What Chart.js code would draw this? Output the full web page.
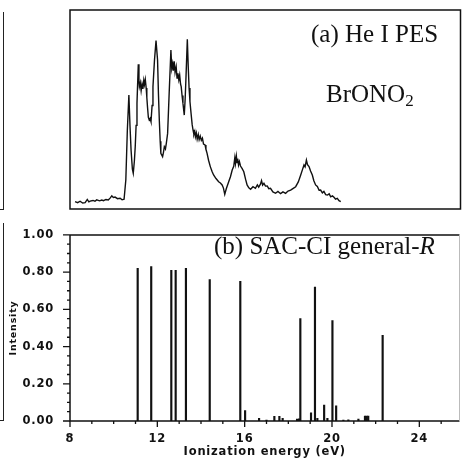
<!DOCTYPE html>
<html>
<head>
<meta charset="utf-8">
<script src="https://cdn.jsdelivr.net/npm/chart.js@4.4.1/dist/chart.umd.min.js"></script>
<style>
  html, body { margin: 0; padding: 0; background: #fff; overflow: hidden; }
  #wrap { position: relative; width: 462px; height: 466px; }
  canvas { position: absolute; left: 0; }
  #pesChart { top: 0; }
  #sacChart { top: 212px; }
  .note {
    position: absolute; font-family: "Liberation Serif", "Times New Roman", serif;
    font-size: 25px; line-height: 25px; color: #111; white-space: nowrap;
  }
  .edge { position: absolute; left: 0; width: 3px; border-right: 1.5px solid #222; border-bottom: 1.5px solid #222; }
</style>
</head>
<body>
<div id="wrap">
  <div class="edge" style="top: 12px; height: 197px;"></div>
  <div class="edge" style="top: 223px; height: 197px;"></div>
  <canvas id="pesChart" width="462" height="212"></canvas>
  <canvas id="sacChart" width="462" height="254"></canvas>
  <div class="note" style="left: 311px; top: 21px;">(a) He I PES</div>
  <div class="note" style="left: 326px; top: 81px;">BrONO<span style="font-size: 17px; position: relative; top: 4px;">2</span></div>
  <div class="note" style="left: 214px; top: 233px;">(b) SAC-CI general-<i>R</i></div>
</div>

<script>
// (a) He I photoelectron spectrum
const pesEnergy = [
  8.23, 8.35, 8.46, 8.58, 8.69, 8.79, 8.86, 8.92, 9.05, 9.14, 9.22, 9.35, 9.45, 9.53, 9.64, 9.75,
  9.84, 9.91, 9.98, 10.06, 10.17, 10.29, 10.38, 10.47, 10.55, 10.62, 10.69, 10.74, 10.79, 10.85,
  10.89, 10.94, 10.98, 11.02, 11.06, 11.12, 11.15, 11.17, 11.21, 11.25, 11.29, 11.33, 11.37, 11.40,
  11.44, 11.48, 11.51, 11.54, 11.58, 11.62, 11.66, 11.70, 11.75, 11.79, 11.86, 11.93, 12.00, 12.04,
  12.08, 12.12, 12.15, 12.23, 12.27, 12.31, 12.36, 12.40, 12.46, 12.53, 12.61, 12.65, 12.69, 12.72,
  12.76, 12.80, 12.85, 12.89, 12.93, 12.97, 13.01, 13.05, 13.08, 13.12, 13.16, 13.22, 13.26, 13.30,
  13.36, 13.40, 13.44, 13.48, 13.53, 13.58, 13.62, 13.66, 13.70, 13.73, 13.77, 13.81, 13.86, 13.90,
  13.95, 14.00, 14.05, 14.10, 14.17, 14.21, 14.26, 14.33, 14.41, 14.49, 14.56, 14.67, 14.79, 14.87,
  14.95, 15.01, 15.07, 15.14, 15.25, 15.33, 15.41, 15.48, 15.53, 15.56, 15.60, 15.63, 15.66, 15.70,
  15.74, 15.79, 15.86, 15.94, 16.02, 16.09, 16.17, 16.25, 16.36, 16.47, 16.56, 16.62, 16.70, 16.75,
  16.80, 16.86, 16.93, 17.01, 17.08, 17.16, 17.27, 17.39, 17.50, 17.62, 17.73, 17.85, 17.96, 18.08,
  18.20, 18.31, 18.43, 18.54, 18.62, 18.69, 18.74, 18.80, 18.85, 18.92, 18.99, 19.07, 19.14, 19.22,
  19.30, 19.38, 19.45, 19.53, 19.60, 19.68, 19.76, 19.84, 19.91, 19.99, 20.06, 20.13, 20.21, 20.29,
  20.37
];
const pesSignal = [
  3.7, 3.2, 3.9, 3.0, 3.2, 4.8, 3.6, 4.0, 4.3, 3.9, 4.6, 4.1, 4.5, 4.2, 4.8, 4.5,
  5.6, 6.6, 5.8, 6.0, 5.2, 5.4, 4.6, 4.9, 14.6, 39.7, 57.3, 42.0, 29.6, 20.0,
  17.9, 24.0, 31.3, 42.0, 53.1, 72.7, 64.0, 61.5, 63.5, 59.5, 62.8, 60.4, 64.6, 62.5,
  65.1, 60.8, 56.0, 51.4, 46.0, 44.7, 45.5, 43.9, 52.0, 61.5, 74.9, 84.6, 74.9, 58.0,
  44.7, 34.0, 28.0, 26.3, 28.5, 31.3, 30.2, 33.0, 38.0, 58.1, 79.9, 70.5, 73.0, 69.5,
  74.2, 68.6, 71.5, 65.8, 68.2, 64.9, 67.3, 62.8, 61.5, 57.0, 53.1, 47.2, 55.0, 66.5,
  85.3, 72.0, 60.8, 54.0, 48.1, 42.5, 39.7, 37.5, 39.0, 36.3, 38.2, 35.1, 37.4, 34.8,
  36.6, 34.5, 35.6, 32.6, 32.2, 30.0, 28.1, 24.5, 21.3, 18.8, 17.1, 15.3, 13.7, 13.1,
  12.1, 10.5, 7.4, 10.2, 13.7, 16.2, 19.6, 21.5, 25.8, 22.9, 26.5, 23.4, 25.3, 22.1,
  23.8, 21.6, 20.4, 18.7, 15.0, 12.1, 10.6, 9.9, 11.2, 10.4, 12.1, 11.0, 12.5, 14.3,
  12.0, 12.9, 11.5, 11.6, 10.2, 10.4, 8.6, 7.9, 8.8, 7.7, 8.6, 7.9, 9.0, 9.5,
  10.4, 11.2, 13.6, 17.1, 19.8, 22.1, 21.2, 24.6, 22.3, 21.3, 19.1, 17.1, 14.2, 12.1,
  11.3, 9.4, 9.5, 8.1, 8.8, 7.2, 7.0, 7.6, 6.1, 6.6, 5.9, 5.0, 5.4, 4.2,
  3.7
];

// (b) SAC-CI general-R ionization energies (eV) and intensities
const stickEnergy = [
  11.10, 11.72, 12.64, 12.84, 13.31, 14.40, 15.80, 16.02, 16.66, 17.00, 17.36, 17.59, 17.74,
  18.40, 18.49, 18.55, 19.04, 19.22, 19.33, 19.64, 19.79, 20.02, 20.19, 20.52, 20.75, 21.21,
  21.51, 21.59, 21.66, 22.32
];
const stickIntensity = [
  0.82, 0.83, 0.81, 0.81, 0.82, 0.76, 0.75, 0.056, 0.014, 0.005, 0.025, 0.025, 0.015,
  0.010, 0.012, 0.55, 0.044, 0.72, 0.014, 0.086, 0.015, 0.54, 0.081, 0.005, 0.006, 0.010,
  0.027, 0.027, 0.027, 0.46
];

// axis ticks
const energyTicks = [8, 12, 16, 20, 24];
const intensityTicks = [0, 0.2, 0.4, 0.6, 0.8, 1.0];

const xMin = 8;
const xMax = 25.84;
const ink = '#111';

// frame around the spectrum panel
const boxPlugin = {
  id: 'box',
  afterDraw(chart) {
    const { ctx, chartArea: a } = chart;
    ctx.save();
    ctx.strokeStyle = ink;
    ctx.lineWidth = 1.5;
    ctx.strokeRect(a.left, a.top, a.right - a.left, a.bottom - a.top);
    ctx.restore();
  }
};

// axes lines plus major/minor tick marks for the stick panel
const axesPlugin = {
  id: 'axes',
  beforeDraw(chart) {
    chart.ctx.letterSpacing = '0.8px';
  },
  afterDraw(chart) {
    const { ctx, chartArea: a, scales } = chart;
    ctx.save();
    ctx.strokeStyle = ink;
    ctx.lineWidth = 1.5;
    ctx.beginPath();
    ctx.moveTo(a.left, a.top);
    ctx.lineTo(a.right, a.top);
    ctx.moveTo(a.left, a.top);
    ctx.lineTo(a.left, a.bottom);
    ctx.lineTo(a.right, a.bottom);
    ctx.stroke();

    ctx.lineWidth = 1.3;
    ctx.beginPath();
    for (let v = 8; v <= 25; v++) {
      const px = scales.x.getPixelForValue(v);
      const len = energyTicks.includes(v) ? 6 : 3;
      ctx.moveTo(px, a.bottom);
      ctx.lineTo(px, a.bottom + len);
    }
    for (let i = 0; i <= 20; i++) {
      const py = scales.y.getPixelForValue(i * 0.05);
      const len = i % 4 === 0 ? 7 : 3;
      ctx.moveTo(a.left - len, py);
      ctx.lineTo(a.left, py);
    }
    ctx.stroke();

    ctx.strokeStyle = '#bbb';
    ctx.lineWidth = 1;
    ctx.beginPath();
    ctx.moveTo(a.right, a.top);
    ctx.lineTo(a.right, a.bottom);
    ctx.stroke();
    ctx.restore();
  }
};

function initPesChart() {
  const ctx = document.getElementById('pesChart').getContext('2d');
  new Chart(ctx, {
    type: 'line',
    data: {
      datasets: [{
        data: pesEnergy.map((e, i) => ({ x: e, y: pesSignal[i] })),
        borderColor: ink,
        borderWidth: 1.4,
        pointRadius: 0,
        tension: 0
      }]
    },
    options: {
      responsive: false,
      animation: false,
      layout: { padding: { left: 70, right: 1.5, top: 10, bottom: 3 } },
      plugins: { legend: { display: false }, tooltip: { enabled: false } },
      scales: {
        x: { type: 'linear', min: xMin, max: xMax, display: false },
        y: { min: 0, max: 100, display: false }
      }
    },
    plugins: [boxPlugin]
  });
}

function initSacChart() {
  const ctx = document.getElementById('sacChart').getContext('2d');
  new Chart(ctx, {
    type: 'bar',
    data: {
      datasets: [{
        data: stickEnergy.map((e, i) => ({ x: e, y: stickIntensity[i] })),
        backgroundColor: ink,
        barThickness: 1.5
      }]
    },
    options: {
      responsive: false,
      animation: false,
      layout: { padding: { left: 0, right: 2.5, top: 12, bottom: 0 } },
      plugins: { legend: { display: false }, tooltip: { enabled: false } },
      scales: {
        x: {
          type: 'linear',
          min: xMin,
          max: xMax,
          offset: false,
          grid: { display: false, drawTicks: false, offset: false },
          border: { display: false },
          afterBuildTicks: function(scale) {
            scale.ticks = energyTicks.map(v => ({ value: v }));
          },
          afterFit: function(scale) { scale.height = 45; },
          ticks: {
            color: ink,
            padding: 11,
            maxRotation: 0,
            font: { family: 'DejaVu Sans', size: 11.5, weight: 'bold' }
          },
          title: {
            display: true,
            text: 'Ionization energy (eV)',
            color: ink,
            padding: { top: 0, bottom: 7 },
            font: { family: 'DejaVu Sans', size: 11.5, weight: 'bold' }
          }
        },
        y: {
          min: 0,
          max: 1,
          grid: { display: false, drawTicks: false },
          border: { display: false },
          afterBuildTicks: function(scale) {
            scale.ticks = intensityTicks.map(v => ({ value: v }));
          },
          afterFit: function(scale) { scale.width = 70; },
          ticks: {
            color: ink,
            padding: 16,
            callback: function(value) {
              return value.toFixed(2);
            },
            font: { family: 'DejaVu Sans', size: 11.5, weight: 'bold' }
          },
          title: {
            display: true,
            text: 'Intensity',
            color: ink,
            padding: { top: 8, bottom: 0 },
            font: { family: 'DejaVu Sans', size: 9.5, weight: 'bold' }
          }
        }
      }
    },
    plugins: [axesPlugin]
  });
}

document.addEventListener('DOMContentLoaded', function() {
  initPesChart();
  initSacChart();
});
</script>
</body>
</html>
